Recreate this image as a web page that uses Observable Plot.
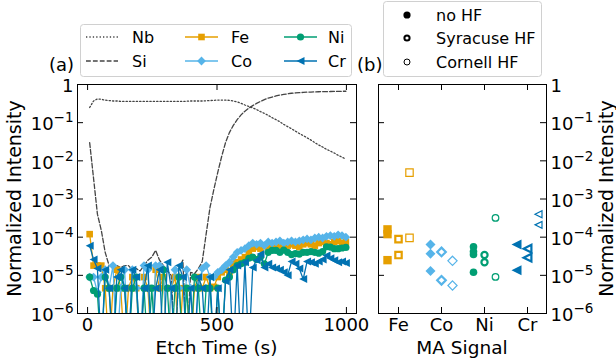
<!DOCTYPE html>
<html><head><meta charset="utf-8">
<script src="https://cdn.jsdelivr.net/npm/d3@7"></script>
<script src="https://cdn.jsdelivr.net/npm/@observablehq/plot@0.6"></script>
<style>
html,body{margin:0;padding:0;background:#fff;}
#wrap{position:relative;width:616px;height:360px;overflow:hidden;font-family:"DejaVu Sans",sans-serif;}
#wrap > svg{position:absolute;top:0;margin:0;overflow:visible;}
</style></head><body><div id="wrap"></div>
<script>
// ---------- data ----------
const etchTime = [8,23,38,53,68,83,98,113,128,143,158,173,188,203,218,233,248,263,278,293,308,323,338,353,368,383,398,413,428,443,458,473,488,503,518,533,548,563,578,593,608,623,638,653,668,683,698,713,728,743,758,773,788,803,818,833,848,863,878,893,908,923,938,953,968,983,998];
const nbSignal = [0.25,0.37,0.42,0.41,0.39,0.38,0.37,0.37,0.36,0.36,
 0.36,0.36,0.36,0.36,0.36,0.36,0.36,0.36,0.36,0.36,
 0.36,0.36,0.36,0.36,0.36,0.365,0.37,0.37,0.37,0.37,
 0.375,0.38,0.385,0.39,0.39,0.39,0.385,0.37,0.35,0.32,
 0.29,0.265,0.245,0.22,0.195,0.175,0.155,0.135,0.12,0.105,
 0.09,0.079,0.069,0.06,0.052,0.046,0.04,0.035,0.03,0.026,
 0.023,0.02,0.018,0.016,0.014,0.0125,0.011];
const siSignal = [0.03,3.5e-3,4e-4,1.5e-4,4e-5,1.8e-5,1.8e-5,1.8e-5,1.6e-5,1.8e-5,
 1.8e-5,1.4e-5,1.5e-5,1.3e-5,1.8e-5,2.5e-5,3e-5,4.5e-5,2.5e-5,1.8e-5,
 1.3e-5,1e-5,1e-7,1.5e-5,2.5e-5,1e-7,1.2e-5,1.1e-5,1.5e-5,2.3e-5,
 1.2e-4,6e-4,1.8e-3,5e-3,1.3e-2,3e-2,5.5e-2,8.5e-2,0.12,0.16,
 0.2,0.24,0.28,0.32,0.36,0.4,0.44,0.47,0.5,0.53,
 0.55,0.57,0.59,0.6,0.61,0.62,0.63,0.635,0.64,0.645,
 0.65,0.65,0.655,0.66,0.66,0.665,0.665];
const feSignal = [1.2e-4,1.8e-5,1.8e-5,1.8e-5,4.6e-6,1e-7,4.6e-6,1.4e-5,4.6e-6,1e-7,
 4.6e-6,9e-6,4.6e-6,1e-7,9e-6,4.6e-6,1e-7,1.4e-5,4.6e-6,9e-6,
 1e-7,4.6e-6,9e-6,1e-7,4.6e-6,4.6e-6,1e-7,4.6e-6,9e-6,4.6e-6,
 9e-6,4.6e-6,5e-6,9e-6,1.2e-5,1.4e-5,1.2e-5,2e-5,2.2e-5,2.6e-5,
 3e-5,4e-5,5e-5,5.5e-5,5e-5,6e-5,5.5e-5,6e-5,6.5e-5,6e-5,
 5.5e-5,6e-5,6.5e-5,6e-5,5.5e-5,6.5e-5,7e-5,6.5e-5,6e-5,7e-5,
 7.5e-5,7e-5,6.5e-5,7.5e-5,8e-5,7e-5,7.5e-5];
const coSignal = [9e-6,9e-6,3.6e-6,9e-6,1.4e-5,4.6e-6,1.8e-5,1e-7,4.6e-6,1.4e-5,
 1e-7,1.4e-5,4.6e-6,1e-7,1.8e-5,1.4e-5,1e-7,1.8e-5,1.8e-5,1.4e-5,
 1e-7,4.6e-6,1.4e-5,4.6e-6,1e-7,1.4e-5,4.6e-6,1e-7,4.6e-6,1.5e-5,
 1.8e-5,9e-6,9e-6,1.2e-5,1.4e-5,1.8e-5,2.2e-5,3e-5,4e-5,4.5e-5,
 5e-5,6e-5,7e-5,6.5e-5,7e-5,6e-5,7.5e-5,7e-5,7.5e-5,8e-5,
 7e-5,7.5e-5,8e-5,7.5e-5,8e-5,8.5e-5,9e-5,8.5e-5,9.5e-5,1e-4,
 9.5e-5,1.05e-4,1.1e-4,1.05e-4,1.15e-4,1.1e-4,1e-4];
const niSignal = [9e-6,4e-6,3.2e-6,1e-7,9e-6,4.6e-6,1e-7,4.6e-6,9e-6,4.6e-6,
 1e-7,4.6e-6,9e-6,1e-7,4.6e-6,1e-7,4.6e-6,1e-7,1e-7,1.4e-5,
 4.6e-6,1e-7,4.6e-6,9e-6,1e-7,4.6e-6,1e-7,9e-6,4.6e-6,1e-7,
 4.6e-6,4.6e-6,1e-7,4.6e-6,1e-7,7.5e-6,9e-6,1.4e-5,1.8e-5,2e-5,
 2.2e-5,2.8e-5,3e-5,2.6e-5,3e-5,2e-5,4e-5,4.5e-5,4.5e-5,4e-5,
 4.6e-5,4e-5,3.5e-5,3.7e-5,3.6e-5,4e-5,4e-5,4.2e-5,4e-5,3.8e-5,
 4.2e-5,5.6e-5,5.5e-5,5e-5,5e-5,5.2e-5,5.4e-5];
const crSignal = [6e-5,2.6e-5,1.5e-5,1e-7,1.4e-5,4.6e-6,1e-7,9e-6,1.4e-5,4.6e-6,
 1e-7,1.4e-5,9e-6,1e-7,4.6e-6,1.8e-5,1e-7,4.6e-6,1.4e-5,1e-7,
 2.2e-5,4.6e-6,1e-7,1.8e-5,9e-6,1e-7,4.6e-6,1e-7,9e-6,4.6e-6,
 1e-7,9e-6,1e-7,4.6e-6,1e-7,7e-6,1.4e-5,1e-7,1.8e-5,1e-7,
 2.2e-5,1e-7,1.6e-5,2.5e-5,3.6e-5,1.6e-5,2e-5,1.6e-5,1.5e-5,1.4e-5,
 1.2e-5,1e-5,2.3e-5,2e-5,1.5e-5,8e-6,2.3e-5,2.2e-5,2e-5,2.3e-5,
 2.6e-5,3.3e-5,2.8e-5,2.5e-5,2.2e-5,2.3e-5,2.1e-5];

const maSignals = ["Fe","Co","Ni","Cr"];
const noHfSignal = ["Fe","Fe","Fe","Co","Co","Co","Ni","Ni","Ni","Ni","Cr","Cr"];
const noHfValue  = [1.6e-4,1.2e-4,2.5e-5,6.4e-5,3.7e-5,1.3e-5,5.6e-5,4.2e-5,3.5e-5,1.2e-5,6.4e-5,1.35e-5];
const syrSignal  = ["Fe","Fe","Co","Co","Ni","Ni","Cr","Cr"];
const syrValue   = [8.9e-5,3.4e-5,4.1e-5,7.4e-6,3.4e-5,2.2e-5,5.0e-5,2.9e-5];
const corSignal  = ["Fe","Fe","Co","Co","Ni","Ni","Cr","Cr"];
const corValue   = [4.9e-3,9.6e-5,2.4e-5,5.4e-6,3.2e-4,9.1e-6,4.0e-4,2.1e-4];

const yTicks = [1e-6,1e-5,1e-4,1e-3,1e-2,1e-1,1];
const xTicks = [0,500,1000];
const elements = ["Fe","Co","Ni","Cr"];
const lineNames = ["Nb","Si"];
const hfNames = ["no HF","Syracuse HF","Cornell HF"];

// ---------- styles ----------
const colors = {Fe:"#E69F00", Co:"#56B4E9", Ni:"#009E73", Cr:"#0072B2"};
const gray = "#444";
function mkSym(shape){
  return {draw(ctx, size){
    const r = Math.sqrt(size/Math.PI);
    if (shape==="square"){ctx.moveTo(-r,-r);ctx.lineTo(r,-r);ctx.lineTo(r,r);ctx.lineTo(-r,r);ctx.closePath();}
    else if (shape==="diamond"){ctx.moveTo(0,-r);ctx.lineTo(r,0);ctx.lineTo(0,r);ctx.lineTo(-r,0);ctx.closePath();}
    else if (shape==="circle"){ctx.moveTo(r,0);ctx.arc(0,0,r,0,2*Math.PI);ctx.closePath();}
    else {ctx.moveTo(-r,0);ctx.lineTo(r,-r);ctx.lineTo(r,r);ctx.closePath();}
  }};
}
const shapes = {Fe:"square",Co:"diamond",Ni:"circle",Cr:"tri"};
const symbols = {Fe:mkSym("square"),Co:mkSym("diamond"),Ni:mkSym("circle"),Cr:mkSym("tri")};
const leftR = {Fe:3.3, Co:4.4, Ni:3.6, Cr:4};
const rightStyle = {
  noHF: {dx:-11, sw:0,   r:{Fe:4.2,Co:5,  Ni:3.8,Cr:5}},
  syr:  {dx:0,   sw:2.2, r:{Fe:3.2,Co:4.3,Ni:3.1,Cr:3.9}},
  cor:  {dx:11,  sw:1.2, r:{Fe:3.7,Co:4.6,Ni:3.3,Cr:3.5}}
};
const fmt = d => d === 1 ? "1" : "10^" + Math.round(Math.log10(d));
const FS = 18;
const H = 360, MT = 84, MB = 47, FH = H - MT - MB;

const rows = vals => etchTime.map((t,i)=>({t, v: vals[i]}));
const series = {Fe:feSignal, Co:coSignal, Ni:niSignal, Cr:crSignal};

// ---------- left panel ----------
const LW = 370, LML = 77, LMR = 14, LFW = LW - LML - LMR;
const leftMarks = [
  Plot.line(rows(nbSignal), {x:"t", y:"v", stroke:gray, strokeWidth:1.3, strokeDasharray:"1.3,2.1", clip:true}),
  Plot.line(rows(siSignal), {x:"t", y:"v", stroke:gray, strokeWidth:1.3, strokeDasharray:"4.8,2.1", clip:true})
];
for (const el of elements){
  leftMarks.push(Plot.line(rows(series[el]), {x:"t", y:"v", stroke:colors[el], strokeWidth:1.3, clip:true}));
  leftMarks.push(Plot.dot(rows(series[el]), {x:"t", y:"v", symbol:symbols[el], r:leftR[el], fill:colors[el], clip:true}));
}
leftMarks.push(
  Plot.frame({stroke:"black", strokeWidth:1}),
  Plot.tickX(xTicks, {x:d=>d, insetTop:FH-6, stroke:"black"}),
  Plot.tickX(xTicks, {x:d=>d, insetBottom:FH-6, stroke:"black"}),
  Plot.tickY(yTicks, {y:d=>d, insetRight:LFW-6, stroke:"black"}),
  Plot.tickY(yTicks, {y:d=>d, insetLeft:LFW-6, stroke:"black"}),
  Plot.axisX({ticks:xTicks, tickSize:0, tickPadding:5, tickFormat:d=>String(d), label:null, fontSize:FS}),
  Plot.axisY({ticks:yTicks, tickSize:0, tickPadding:4, tickFormat:fmt, label:null, fontSize:FS, dy:2})
);
const left = Plot.plot({
  width:LW, height:H, marginLeft:LML, marginRight:LMR, marginTop:MT, marginBottom:MB,
  x:{domain:[-39,1039]}, y:{type:"log", domain:[1e-6,1]},
  style:{fontFamily:"DejaVu Sans", fontSize:FS+"px", color:"black", background:"transparent", overflow:"visible"},
  marks:leftMarks
});

// ---------- right panel ----------
const RW = 246, RML = 8, RMR = 70, RFW = RW - RML - RMR;
const rightMarks = [
  Plot.frame({stroke:"black", strokeWidth:1}),
  Plot.tickX(maSignals, {x:d=>d, insetTop:FH-6, stroke:"black"}),
  Plot.tickX(maSignals, {x:d=>d, insetBottom:FH-6, stroke:"black"}),
  Plot.tickY(yTicks, {y:d=>d, insetRight:RFW-6, stroke:"black"}),
  Plot.tickY(yTicks, {y:d=>d, insetLeft:RFW-6, stroke:"black"})
];
const groups = [
  ["noHF", noHfSignal, noHfValue],
  ["syr", syrSignal, syrValue],
  ["cor", corSignal, corValue]
];
for (const [key, sigs, vals] of groups){
  const st = rightStyle[key];
  for (const el of elements){
    const data = sigs.map((s,i)=>({signal:s, value:vals[i]})).filter(d=>d.signal===el);
    rightMarks.push(Plot.dot(data, {
      x:"signal", y:"value", dx:st.dx, symbol:symbols[el], r:st.r[el],
      fill: key==="noHF" ? colors[el] : "white",
      stroke: key==="noHF" ? "none" : colors[el],
      strokeWidth: st.sw
    }));
  }
}
rightMarks.push(
  Plot.axisX({tickSize:0, tickPadding:5, label:null, fontSize:FS}),
  Plot.axisY({anchor:"right", ticks:yTicks, tickSize:0, tickPadding:4, tickFormat:fmt, label:null, fontSize:FS, dy:2})
);
const right = Plot.plot({
  width:RW, height:H, marginLeft:RML, marginRight:RMR, marginTop:MT, marginBottom:MB,
  x:{type:"point", domain:maSignals, padding:0.43}, y:{type:"log", domain:[1e-6,1]},
  style:{fontFamily:"DejaVu Sans", fontSize:FS+"px", color:"black", background:"transparent", overflow:"visible"},
  marks:rightMarks
});

const wrap = document.getElementById("wrap");
left.style.left = "0px";
right.style.left = "370px";
wrap.appendChild(left);
wrap.appendChild(right);

// superscript exponents
for (const svg of [left, right]){
  d3.select(svg).selectAll("text").each(function(){
    const s = this.textContent;
    if (s.startsWith("10^")){
      const e = s.slice(3).replace("-", "\u2212");
      this.textContent = "";
      const t = d3.select(this);
      t.append("tspan").text("10");
      t.append("tspan").attr("dy", -8).attr("font-size", 13.5).text(e);
    }
  });
}

// ---------- overlay: labels & legends ----------
const ov = d3.select(wrap).append("svg")
  .attr("width",616).attr("height",360)
  .style("left","0px").style("top","0px").style("position","absolute")
  .attr("font-family","DejaVu Sans");

ov.append("text").attr("x",49).attr("y",71).attr("font-size",18).text("(a)");
ov.append("text").attr("x",357).attr("y",71).attr("font-size",18).text("(b)");
ov.append("text").attr("x",216.5).attr("y",354).attr("font-size",18.5).attr("text-anchor","middle").text("Etch Time (s)");
ov.append("text").attr("x",462).attr("y",354).attr("font-size",18.5).attr("text-anchor","middle").text("MA Signal");
ov.append("text").attr("transform","translate(20.5,198.5) rotate(-90)").attr("font-size",19).attr("text-anchor","middle").text("Normalized Intensity");
ov.append("text").attr("transform","translate(613,198.5) rotate(-90)").attr("font-size",19).attr("text-anchor","middle").text("Normalized Intensity");

function symPath(shape, r){
  const p = d3.path(); mkSym(shape).draw(p, r*r*Math.PI); return p.toString();
}
// left legend
ov.append("rect").attr("x",80.5).attr("y",24.5).attr("width",271).attr("height",52).attr("rx",3)
  .attr("fill","white").attr("fill-opacity",0.8).attr("stroke","#d0d0d0");
const rowsY = [37, 61];
lineNames.forEach((nm,i)=>{
  ov.append("line").attr("x1",86).attr("x2",118).attr("y1",rowsY[i]).attr("y2",rowsY[i])
    .attr("stroke",gray).attr("stroke-width",1.3).attr("stroke-dasharray", i===0 ? "1.3,2.1" : "4.8,2.1");
  ov.append("text").attr("x",132).attr("y",rowsY[i]).attr("dy","0.35em").attr("font-size",16).text(nm);
});
const legCols = [{x1:185,x2:218,tx:231},{x1:284,x2:317,tx:328}];
elements.forEach((el,i)=>{
  const c = legCols[Math.floor(i/2)], y = rowsY[i%2], cx = (c.x1+c.x2)/2;
  ov.append("line").attr("x1",c.x1).attr("x2",c.x2).attr("y1",y).attr("y2",y).attr("stroke",colors[el]).attr("stroke-width",1.3);
  ov.append("path").attr("transform",`translate(${cx},${y})`).attr("d",symPath(shapes[el], leftR[el])).attr("fill",colors[el]);
  ov.append("text").attr("x",c.tx).attr("y",y).attr("dy","0.35em").attr("font-size",16).text(el);
});
// right legend
ov.append("rect").attr("x",383.5).attr("y",1.5).attr("width",158).attr("height",75).attr("rx",3)
  .attr("fill","white").attr("fill-opacity",0.8).attr("stroke","#d0d0d0");
const hfY = [15, 38, 62];
hfNames.forEach((nm,i)=>{
  const g = ov.append("circle").attr("cx",407).attr("cy",hfY[i]);
  if (i===0) g.attr("r",3.6).attr("fill","black");
  else if (i===1) g.attr("r",2.6).attr("fill","white").attr("stroke","black").attr("stroke-width",2);
  else g.attr("r",3).attr("fill","white").attr("stroke","black").attr("stroke-width",1);
  ov.append("text").attr("x",436).attr("y",hfY[i]).attr("dy","0.35em").attr("font-size",16).text(nm);
});
</script></body></html>
